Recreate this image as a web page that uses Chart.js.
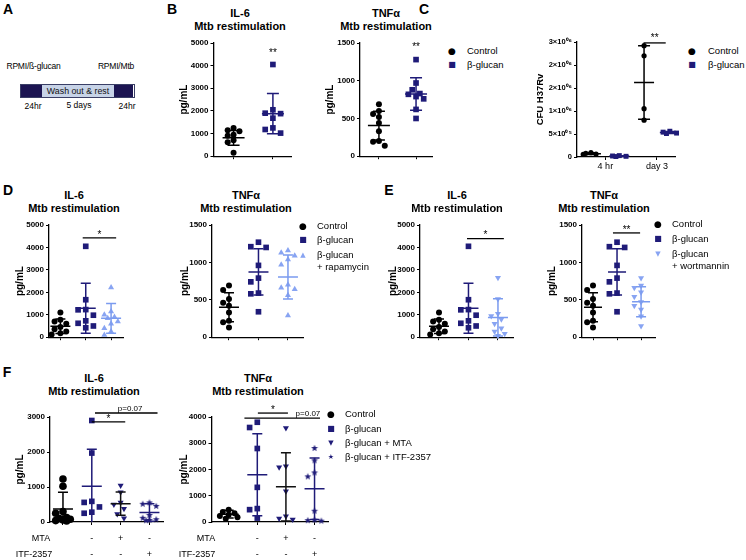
<!DOCTYPE html>
<html>
<head>
<meta charset="utf-8">
<script src="https://cdn.jsdelivr.net/npm/chart.js@4.4.1/dist/chart.umd.min.js"></script>
<style>
  body { margin:0; width:746px; height:560px; position:relative; overflow:hidden; background:#fff;
         font-family:"Liberation Sans", Arial, sans-serif; color:#000; }
  .t { position:absolute; white-space:nowrap; line-height:1; }
  .c { transform:translate(-50%,-50%); }
  .l { transform:translate(0,-50%); }
  canvas { position:absolute; }
</style>
</head>
<body>
<script>
// ---------- data ----------
const yTicks5000 = [0, 1000, 2000, 3000, 4000, 5000];
const yTicks1500 = [0, 500, 1000, 1500];
const yTicks3000 = [0, 1000, 2000, 3000];
const yTicks4000 = [0, 1000, 2000, 3000, 4000];

// B
const bIl6Control = [1250, 1150, 1100, 950, 900, 700, 620, 150];
const bIl6Glucan = [4050, 2050, 1900, 1880, 1680, 1250, 1180, 1020];
const bIl6Mean = [810, 1880];
const bIl6Sd = [330, 890];
const bTnfControl = [690, 600, 560, 520, 440, 330, 200, 190, 140];
const bTnfGlucan = [1280, 970, 880, 830, 820, 790, 760, 620, 500];
const bTnfMean = [406, 825];
const bTnfSd = [190, 215];

// C
const cTimepoints = ['4 hr', 'day 3'];
const cTicks = [0, 500000, 1000000, 1500000, 2000000, 2500000];
const cTickLabels = ['0', '5×10⁰⁵', '1×10⁰⁶', '2×10⁰⁶', '2×10⁰⁶', '3×10⁰⁶'];
const cControl4h = [95000, 80000, 65000, 55000];
const cGlucan4h = [30000, 22000, 15000, 10000];
const cControlD3 = [2420000, 2200000, 1050000, 800000];
const cGlucanD3 = [560000, 540000, 520000, 510000];
const cMean = [72000, 20000, 1620000, 532000];
const cSd = [18000, 9000, 800000, 22000];

// D (rapamycin)
const dIl6Control = [1100, 780, 700, 600, 450, 350, 250, 180, 120];
const dIl6Glucan = [4050, 1670, 1230, 1220, 980, 730, 620, 500, 420];
const dIl6Rapa = [2220, 1150, 1000, 900, 850, 700, 600, 400, 250, 100];
const dIl6Mean = [490, 1290, 840];
const dIl6Sd = [320, 1110, 660];
const dTnfControl = [690, 630, 510, 460, 420, 330, 220, 200, 130];
const dTnfGlucan = [1270, 1210, 1200, 960, 790, 740, 590, 580, 340];
const dTnfRapa = [1160, 1130, 1090, 1040, 970, 700, 660, 640, 560, 290];
const dTnfMean = [400, 873, 805];
const dTnfSd = [195, 310, 295];

// E (wortmannin)
const eIl6Wort = [2650, 1700, 1050, 950, 800, 600, 400, 250, 150, 60];
const eIl6Mean = [490, 1290, 880];
const eIl6Sd = [320, 1110, 830];
const eTnfWort = [790, 690, 660, 600, 540, 470, 420, 370, 280, 150];
const eTnfMean = [400, 873, 475];
const eTnfSd = [195, 310, 200];

// F (MTA / ITF-2357)
const fMtaRow = ['', '-', '+', '-'];
const fItfRow = ['', '-', '-', '+'];
const fIl6Control = [1230, 1020, 300, 250, 130, 100, 80, 60, 40, 30];
const fIl6Glucan = [2900, 1970, 590, 560, 430, 280, 250];
const fIl6Mta = [1040, 850, 560, 500, 380, 230, 110];
const fIl6Itf = [560, 520, 460, 200, 120, 80, 60, 50];
const fIl6Mean = [370, 1020, 524, 270];
const fIl6Sd = [480, 1060, 330, 250];
const fTnfControl = [470, 380, 330, 280, 230, 180, 120];
const fTnfGlucan = [3800, 3600, 2800, 1320, 510, 470, 150];
const fTnfMta = [3580, 2120, 2090, 1170, 220, 130, 100];
const fTnfItf = [2820, 2350, 1890, 1740, 430, 90, 70, 50];
const fTnfMean = [300, 1800, 1340, 1270];
const fTnfSd = [150, 1560, 1300, 1170];

// ---------- styling ----------
const NAVY = '#1f1b78';
const LIGHT = '#88a4f2';
const LIGHT_BAR = '#7b9bef';
Chart.defaults.font.family = '"Liberation Sans", Arial, sans-serif';

// small filled star for ITF-2357
const starImg = document.createElement('canvas');
starImg.width = 8; starImg.height = 8;
(function () {
  const g = starImg.getContext('2d');
  g.fillStyle = NAVY;
  g.beginPath();
  for (let i = 0; i < 10; i++) {
    const r = i % 2 ? 1.5 : 3.6;
    const a = -Math.PI / 2 + i * Math.PI / 5;
    g.lineTo(4 + r * Math.cos(a), 4.3 + r * Math.sin(a));
  }
  g.closePath();
  g.fill();
})();

function txt(x, y, s, css, cls) {
  const d = document.createElement('div');
  d.className = 't ' + (cls || 'c');
  d.style.cssText = 'left:' + x + 'px;top:' + y + 'px;' + (css || '');
  d.textContent = s;
  document.body.appendChild(d);
  return d;
}

// mean +/- SD bars and significance marks
const errBars = {
  id: 'errBars',
  afterDatasetsDraw(chart, args, o) {
    if (!o || !o.mean) return;
    const { ctx, scales: { x, y } } = chart;
    ctx.save();
    o.pos.forEach((p, i) => {
      const cx = x.getPixelForValue(p);
      const m = y.getPixelForValue(o.mean[i]);
      const hi = y.getPixelForValue(o.mean[i] + o.sd[i]);
      const lowVal = o.mean[i] - o.sd[i];
      const lo = y.getPixelForValue(Math.max(0, lowVal));
      ctx.strokeStyle = o.colors[i];
      ctx.lineWidth = 1.5;
      ctx.beginPath();
      ctx.moveTo(cx, hi); ctx.lineTo(cx, lo);
      ctx.moveTo(cx - o.cap, hi); ctx.lineTo(cx + o.cap, hi);
      if (lowVal > 0) { ctx.moveTo(cx - o.cap, lo); ctx.lineTo(cx + o.cap, lo); }
      ctx.moveTo(cx - o.half, m); ctx.lineTo(cx + o.half, m);
      ctx.stroke();
    });
    (o.sig || []).forEach(s => {
      ctx.fillStyle = '#000';
      ctx.strokeStyle = '#000';
      ctx.lineWidth = 1.3;
      const yy = y.getPixelForValue(s.y);
      const hasLine = s.from !== undefined;
      if (hasLine) {
        ctx.beginPath();
        ctx.moveTo(x.getPixelForValue(s.from), yy);
        ctx.lineTo(x.getPixelForValue(s.to), yy);
        ctx.stroke();
      }
      const tx = x.getPixelForValue(s.tx !== undefined ? s.tx : (s.from + s.to) / 2);
      ctx.font = s.font || '10px "Liberation Sans"';
      ctx.textAlign = 'center';
      ctx.textBaseline = 'middle';
      ctx.fillText(s.text, tx, yy - (hasLine ? (s.dy || 4) : 0));
    });
    ctx.restore();
  }
};
Chart.register(errBars);

// horizontal spread of points that would overlap (GraphPad-like scatter), capped width
function spread(values, pxY, d, maxOff) {
  const order = values.map((v, i) => i).sort((a, b) => values[b] - values[a]);
  const step = d * 0.45;
  const cand = [0];
  for (let k = 1; k * step <= maxOff + 0.01; k++) cand.push(-k * step, k * step);
  const placed = [], offs = [];
  const minDist = c => placed.reduce((m, p) => Math.min(m, Math.hypot(p[0] - c[0], p[1] - c[1])), 1e9);
  order.forEach(i => {
    const py = values[i] * pxY;
    let best = null, bestD = -1;
    for (const c of cand) {
      const dd = minDist([c, py]);
      if (dd >= d * 0.85) { best = c; break; }
      if (dd > bestD) { bestD = dd; best = c; }
    }
    placed.push([best, py]);
    offs[i] = best;
  });
  return offs;
}

function scatterPanel(o) {
  const yW = o.L - o.titleX + 6;
  const padT = 16, padR = 4, xH = o.xH || 6;
  const cv = document.createElement('canvas');
  cv.width = Math.round(yW + (o.R - o.L) + padR);
  cv.height = Math.round(padT + (o.B - o.T) + xH);
  cv.style.left = (o.L - yW) + 'px';
  cv.style.top = (o.T - padT) + 'px';
  document.body.appendChild(cv);

  const pxX = (o.R - o.L) / (o.xMax - o.xMin);
  const pxY = (o.B - o.T) / o.yMax;
  const datasets = o.groups.map((g, i) => {
    const offs = spread(g.values, pxY, 2 * g.r + 0.5, o.maxOff || 10);
    return {
      data: g.values.map((v, j) => ({ x: o.pos[i] + offs[j] / pxX, y: v })),
      pointStyle: g.style,
      pointRadius: g.r,
      pointRotation: g.rot || 0,
      backgroundColor: g.color,
      borderColor: g.color,
      borderWidth: 0,
      clip: false
    };
  });
  const tickPos = o.tickPos || o.pos;
  const xLabels = o.xLabels || tickPos.map(() => '');

  return new Chart(cv, {
    type: 'scatter',
    data: { datasets },
    options: {
      responsive: false,
      animation: false,
      events: [],
      layout: { padding: { top: padT, right: padR, left: 0, bottom: 0 } },
      plugins: {
        legend: { display: false },
        tooltip: { enabled: false },
        errBars: {
          pos: o.pos, mean: o.mean, sd: o.sd,
          colors: o.groups.map(g => g.bar || g.color),
          half: o.half || 10, cap: o.cap || 5, sig: o.sig
        }
      },
      scales: {
        x: {
          type: 'linear', min: o.xMin, max: o.xMax,
          afterBuildTicks: s => { s.ticks = tickPos.map(v => ({ value: v })); },
          afterFit: s => { s.height = xH; },
          grid: { drawOnChartArea: false, color: '#000', tickLength: 3, lineWidth: 1 },
          border: { color: '#000', width: 1.3 },
          ticks: {
            autoSkip: false, maxRotation: 0, color: '#000',
            padding: o.xPad || 1,
            font: { size: 9, lineHeight: o.xLineH || 1.2 },
            callback: (v, i) => xLabels[i]
          }
        },
        y: {
          min: 0, max: o.yMax,
          afterBuildTicks: s => { s.ticks = o.yTicks.map(v => ({ value: v })); },
          afterFit: s => { s.width = yW; },
          grid: { drawOnChartArea: false, color: '#000', tickLength: 3, lineWidth: 1 },
          border: { color: '#000', width: 1.3 },
          ticks: {
            color: '#000', padding: 2,
            font: { size: o.yFont || 8, weight: 'bold' },
            callback: (v, i) => (o.yLabels ? o.yLabels[i] : String(v))
          },
          title: {
            display: true, text: o.yTitle || 'pg/mL', color: '#000',
            padding: { top: 0, bottom: 0 },
            font: { size: o.yTitleSize || 10, weight: 'bold' }
          }
        }
      }
    }
  });
}

function legend(mx, tx, rows) {
  rows.forEach(r => {
    if (r.glyph) txt(mx, r.y, r.glyph, 'font-family:"DejaVu Sans";font-size:' + (r.gs || 8) + 'px;color:' + r.color + ';');
    txt(tx, r.y, r.label, 'font-size:9.5px;', 'l');
  });
}

function titles(x, y, top) {
  txt(x, y, top, 'font-size:11px;font-weight:bold;');
  txt(x, y + 13, 'Mtb restimulation', 'font-size:11px;font-weight:bold;');
}

// ---------- panel letters ----------
[['A', 8, 9], ['B', 172, 9], ['C', 424, 9], ['D', 8, 190], ['E', 389, 190], ['F', 7, 372]]
  .forEach(p => txt(p[1], p[2], p[0], 'font-size:14px;font-weight:bold;'));

// ---------- A: protocol scheme ----------
txt(33.5, 66, 'RPMI/ß-glucan', 'font-size:8.5px;letter-spacing:-0.2px;');
txt(116, 66, 'RPMI/Mtb', 'font-size:8.5px;letter-spacing:-0.2px;');
(function () {
  const segs = [[20.7, 21, '#1c1552'], [41.7, 72.6, '#c7d3e7'], [114.3, 19, '#1c1552']];
  segs.forEach(s => {
    const d = document.createElement('div');
    d.style.cssText = 'position:absolute;left:' + s[0] + 'px;top:84.3px;width:' + s[1] +
      'px;height:12.4px;background:' + s[2] + ';';
    document.body.appendChild(d);
  });
  const o = document.createElement('div');
  o.style.cssText = 'position:absolute;left:20.2px;top:83.8px;width:112.6px;height:12.4px;border:0.8px solid #3a3f66;';
  document.body.appendChild(o);
})();
txt(78, 91, 'Wash out & rest', 'font-size:8.8px;color:#111;');
txt(33, 106, '24hr', 'font-size:8.5px;');
txt(79, 105, '5 days', 'font-size:8.5px;');
txt(127, 106, '24hr', 'font-size:8.5px;');

// ---------- B ----------
titles(240, 13, 'IL-6');
scatterPanel({
  L: 213, T: 43, R: 290, B: 157, titleX: 183.5, xMin: -0.51, xMax: 1.46, pos: [0, 1],
  yMax: 5000, yTicks: yTicks5000, mean: bIl6Mean, sd: bIl6Sd, half: 11, cap: 6, maxOff: 11,
  groups: [
    { values: bIl6Control, style: 'circle', r: 3, color: '#000' },
    { values: bIl6Glucan, style: 'rect', r: 4, color: NAVY }
  ],
  sig: [{ tx: 1, y: 4560, text: '**' }]
});
titles(386, 13, 'TNFα');
scatterPanel({
  L: 360, T: 43, R: 432, B: 157, titleX: 330, xMin: -0.51, xMax: 1.43, pos: [0, 1],
  yMax: 1500, yTicks: yTicks1500, mean: bTnfMean, sd: bTnfSd, half: 11, cap: 6, maxOff: 11,
  groups: [
    { values: bTnfControl, style: 'circle', r: 3, color: '#000' },
    { values: bTnfGlucan, style: 'rect', r: 4, color: NAVY }
  ],
  sig: [{ tx: 1, y: 1440, text: '**' }]
});
legend(452, 467, [
  { y: 51, glyph: '●', gs: 9, color: '#000', label: 'Control' },
  { y: 65, glyph: '■', gs: 8, color: NAVY, label: 'β-glucan' }
]);

// ---------- C ----------
scatterPanel({
  L: 577, T: 42, R: 675, B: 157, titleX: 541, xMin: -0.55, xMax: 1.35,
  pos: [-0.28, 0.27, 0.75, 1.25], tickPos: [0, 1], xLabels: cTimepoints, xH: 22,
  yMax: 2500000, yTicks: cTicks, yLabels: cTickLabels, yFont: 7.5,
  yTitle: 'CFU H37Rv', yTitleSize: 9.5,
  mean: cMean, sd: cSd, half: 10, cap: 6, maxOff: 8,
  groups: [
    { values: cControl4h, style: 'circle', r: 2.6, color: '#000' },
    { values: cGlucan4h, style: 'rect', r: 3.5, color: NAVY },
    { values: cControlD3, style: 'circle', r: 2.6, color: '#000' },
    { values: cGlucanD3, style: 'rect', r: 3.5, color: NAVY }
  ],
  sig: [{ from: 0.74, to: 1.17, y: 2480000, text: '**', dy: 5 }]
});
legend(692, 708, [
  { y: 51, glyph: '●', gs: 9, color: '#000', label: 'Control' },
  { y: 65, glyph: '■', gs: 8, color: NAVY, label: 'β-glucan' }
]);

// ---------- D ----------
titles(74, 195, 'IL-6');
scatterPanel({
  L: 49, T: 225, R: 123, B: 338, titleX: 20, xMin: -0.45, xMax: 2.47, pos: [0, 1, 2],
  yMax: 5000, yTicks: yTicks5000, mean: dIl6Mean, sd: dIl6Sd, maxOff: 9,
  groups: [
    { values: dIl6Control, style: 'circle', r: 3, color: '#000' },
    { values: dIl6Glucan, style: 'rect', r: 4, color: NAVY },
    { values: dIl6Rapa, style: 'triangle', r: 3.5, color: LIGHT, bar: LIGHT_BAR }
  ],
  sig: [{ from: 0.88, to: 2.2, y: 4430, text: '*', dy: 3 }]
});
titles(246, 195, 'TNFα');
scatterPanel({
  L: 212, T: 225, R: 303, B: 338, titleX: 185, xMin: -0.576, xMax: 2.51, pos: [0, 1, 2],
  yMax: 1500, yTicks: yTicks1500, mean: dTnfMean, sd: dTnfSd, maxOff: 10,
  groups: [
    { values: dTnfControl, style: 'circle', r: 3, color: '#000' },
    { values: dTnfGlucan, style: 'rect', r: 4, color: NAVY },
    { values: dTnfRapa, style: 'triangle', r: 3.5, color: LIGHT, bar: LIGHT_BAR }
  ]
});
legend(303, 317, [
  { y: 226, glyph: '●', gs: 9, color: '#000', label: 'Control' },
  { y: 240, glyph: '■', gs: 8, color: NAVY, label: 'β-glucan' },
  { y: 255, glyph: '▲', gs: 7, color: LIGHT, label: 'β-glucan' },
  { y: 267, label: '+ rapamycin' }
]);

// ---------- E ----------
titles(457, 195, 'IL-6');
scatterPanel({
  L: 420, T: 225, R: 513, B: 338, titleX: 393, xMin: -0.644, xMax: 2.51, pos: [0, 1, 2],
  yMax: 5000, yTicks: yTicks5000, mean: eIl6Mean, sd: eIl6Sd, maxOff: 10,
  groups: [
    { values: dIl6Control, style: 'circle', r: 3, color: '#000' },
    { values: dIl6Glucan, style: 'rect', r: 4, color: NAVY },
    { values: eIl6Wort, style: 'triangle', rot: 180, r: 3.5, color: LIGHT, bar: LIGHT_BAR }
  ],
  sig: [{ from: 0.95, to: 2.2, y: 4390, text: '*', dy: 3 }]
});
titles(604, 195, 'TNFα');
scatterPanel({
  L: 582, T: 225, R: 655, B: 338, titleX: 552, xMin: -0.458, xMax: 2.58, pos: [0, 1, 2],
  yMax: 1500, yTicks: yTicks1500, mean: eTnfMean, sd: eTnfSd, half: 9, maxOff: 9,
  groups: [
    { values: dTnfControl, style: 'circle', r: 3, color: '#000' },
    { values: dTnfGlucan, style: 'rect', r: 4, color: NAVY },
    { values: eTnfWort, style: 'triangle', rot: 180, r: 3.5, color: LIGHT, bar: LIGHT_BAR }
  ],
  sig: [{ from: 0.83, to: 1.96, y: 1394, text: '**', dy: 3 }]
});
legend(658, 672, [
  { y: 224, glyph: '●', gs: 9, color: '#000', label: 'Control' },
  { y: 239, glyph: '■', gs: 8, color: NAVY, label: 'β-glucan' },
  { y: 254, glyph: '▼', gs: 7, color: LIGHT, label: 'β-glucan' },
  { y: 266, label: '+ wortmannin' }
]);

// ---------- F ----------
const fXLabels = fMtaRow.map((m, i) => [m, fItfRow[i]]);
titles(94, 378, 'IL-6');
scatterPanel({
  L: 50, T: 417, R: 163, B: 522, titleX: 20, xMin: -0.45, xMax: 3.47, pos: [0, 1, 2, 3],
  xLabels: fXLabels, xH: 42, xPad: 6, xLineH: 16 / 9,
  yMax: 3000, yTicks: yTicks3000, mean: fIl6Mean, sd: fIl6Sd, maxOff: 10,
  groups: [
    { values: fIl6Control, style: 'circle', r: 3.8, color: '#000' },
    { values: fIl6Glucan, style: 'rect', r: 4, color: NAVY },
    { values: fIl6Mta, style: 'triangle', rot: 180, r: 3.5, color: NAVY, bar: '#111' },
    { values: fIl6Itf, style: starImg, r: 3.5, color: NAVY }
  ],
  sig: [
    { from: 1.0, to: 2.16, y: 2860, text: '*', dy: 3 },
    { from: 1.11, to: 3.28, y: 3115, text: 'p=0.07', tx: 2.33, dy: 4, font: '8px "Liberation Sans"' }
  ]
});
txt(41, 538, 'MTA', 'font-size:9px;');
txt(34, 554, 'ITF-2357', 'font-size:9px;');

titles(258, 378, 'TNFα');
scatterPanel({
  L: 211, T: 417, R: 327, B: 522, titleX: 183.5, xMin: -0.6, xMax: 3.47, pos: [0, 1, 2, 3],
  xLabels: fXLabels, xH: 42, xPad: 6, xLineH: 16 / 9,
  yMax: 4000, yTicks: yTicks4000, mean: fTnfMean, sd: fTnfSd, maxOff: 9,
  groups: [
    { values: fTnfControl, style: 'circle', r: 3, color: '#000' },
    { values: fTnfGlucan, style: 'rect', r: 4, color: NAVY },
    { values: fTnfMta, style: 'triangle', rot: 180, r: 3.5, color: NAVY, bar: '#111' },
    { values: fTnfItf, style: starImg, r: 3.5, color: NAVY }
  ],
  sig: [
    { from: 1.02, to: 2.07, y: 4150, text: '*', dy: 3 },
    { from: 0.55, to: 3.19, y: 3960, text: 'p=0.07', tx: 2.77, dy: 4, font: '8px "Liberation Sans"' }
  ]
});
txt(206, 538, 'MTA', 'font-size:9px;');
txt(197, 554, 'ITF-2357', 'font-size:9px;');
legend(331, 345, [
  { y: 414, glyph: '●', gs: 9, color: '#000', label: 'Control' },
  { y: 429, glyph: '■', gs: 8, color: NAVY, label: 'β-glucan' },
  { y: 443, glyph: '▼', gs: 7, color: NAVY, label: 'β-glucan + MTA' },
  { y: 457, glyph: '★', gs: 7, color: NAVY, label: 'β-glucan + ITF-2357' }
]);
</script>
</body>
</html>
